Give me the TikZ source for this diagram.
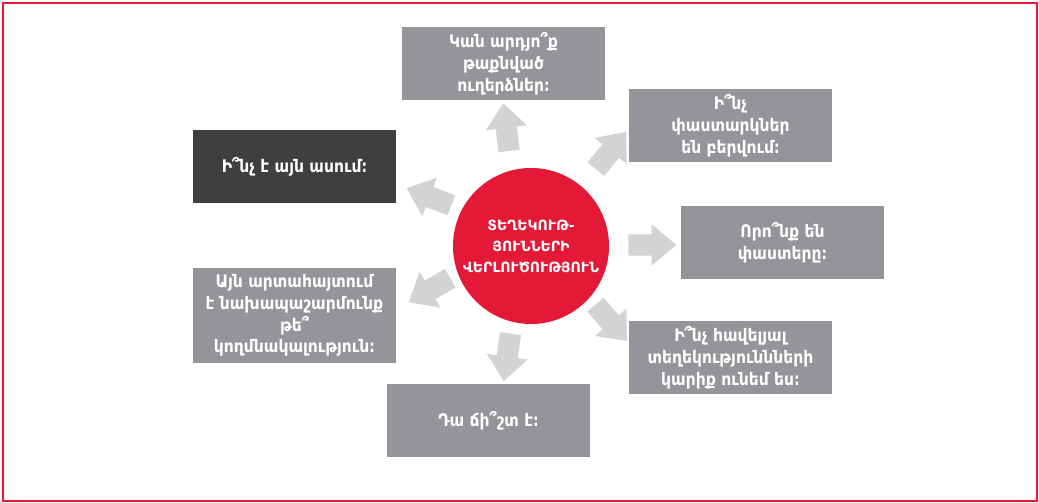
\documentclass[tikz,border=0pt]{standalone}
\usepackage{fontspec}
\setmainfont{DejaVu Sans}
\newfontfamily\narrowfont{DejaVu Sans Condensed}
\usetikzlibrary{shapes.arrows, positioning}
\definecolor{hubred}{HTML}{E31937}
\definecolor{boxgray}{HTML}{939598}
\definecolor{boxdark}{HTML}{3F3F3F}
\definecolor{raygray}{HTML}{D1D3D4}

\begin{document}
\begin{tikzpicture}[
  x=0.025cm, y=0.025cm,
  box/.style={rectangle, fill=boxgray, minimum width=5.075cm, minimum height=1.825cm, align=center, text=white, inner sep=2pt, font=\narrowfont\bfseries\fontsize{12.3}{15.5}\selectfont},
  darkbox/.style={box, fill=boxdark},
  hub/.style={circle, fill=hubred, minimum size=3.9cm, inner sep=0pt, align=center, text=white, font=\bfseries\fontsize{10}{15}\selectfont},
  ray/.style={single arrow, fill=raygray, minimum height=1.2cm, single arrow head extend=0.25cm, single arrow tip angle=80, inner xsep=0pt, inner ysep=0.26cm}
]
  \useasboundingbox (0,0) rectangle (1039,503);
  \draw[hubred, line width=1.4pt] (3,2) rectangle (1037,500);

  \node[hub] (hub) at (531,257) {ՏԵՂԵԿՈՒԹ-\\ՅՈՒՆՆԵՐԻ\\ՎԵՐԼՈՒԾՈՒԹՅՈՒՆ};

  % question boxes
  \node[box] (hidden) at (503.5,439.5) {Կան արդյո՞ք\\թաքնված\\ուղերձներ։};
  \node[box] (claims) at (730.5,377.5) {Ի՞նչ\\փաստարկներ\\են բերվում։};
  \node[darkbox] (says) at (294.5,336.5) {Ի՞նչ է այն ասում։};
  \node[box] (facts) at (782.5,260.5) {Որո՞նք են\\փաստերը։};
  \node[box, minimum height=2.375cm] (bias) at (294.5,187.5) {Այն արտահայտում\\է նախապաշարմունք\\թե՞\\կողմնակալություն։};
  \node[box] (more) at (730.5,145.5) {Ի՞նչ հավելյալ\\տեղեկություննների\\կարիք ունեմ ես։};
  \node[box] (true) at (488.5,82.5) {Դա ճի՞շտ է։};

  % arrows out of the hub
  \node[ray, rotate=97] (r1) at (507,369.5) {};
  \node[ray, rotate=51] (r2) at (607,347.5) {};
  \node[ray, rotate=159] (r3) at (435,304) {};
  \node[ray, rotate=0] (r4) at (646,258) {};
  \node[ray, rotate=210] (r5) at (435,216) {};
  \node[ray, rotate=-49] (r6) at (607,185) {};
  \node[ray, rotate=262] (r7) at (508,152) {};
\end{tikzpicture}
\end{document}
